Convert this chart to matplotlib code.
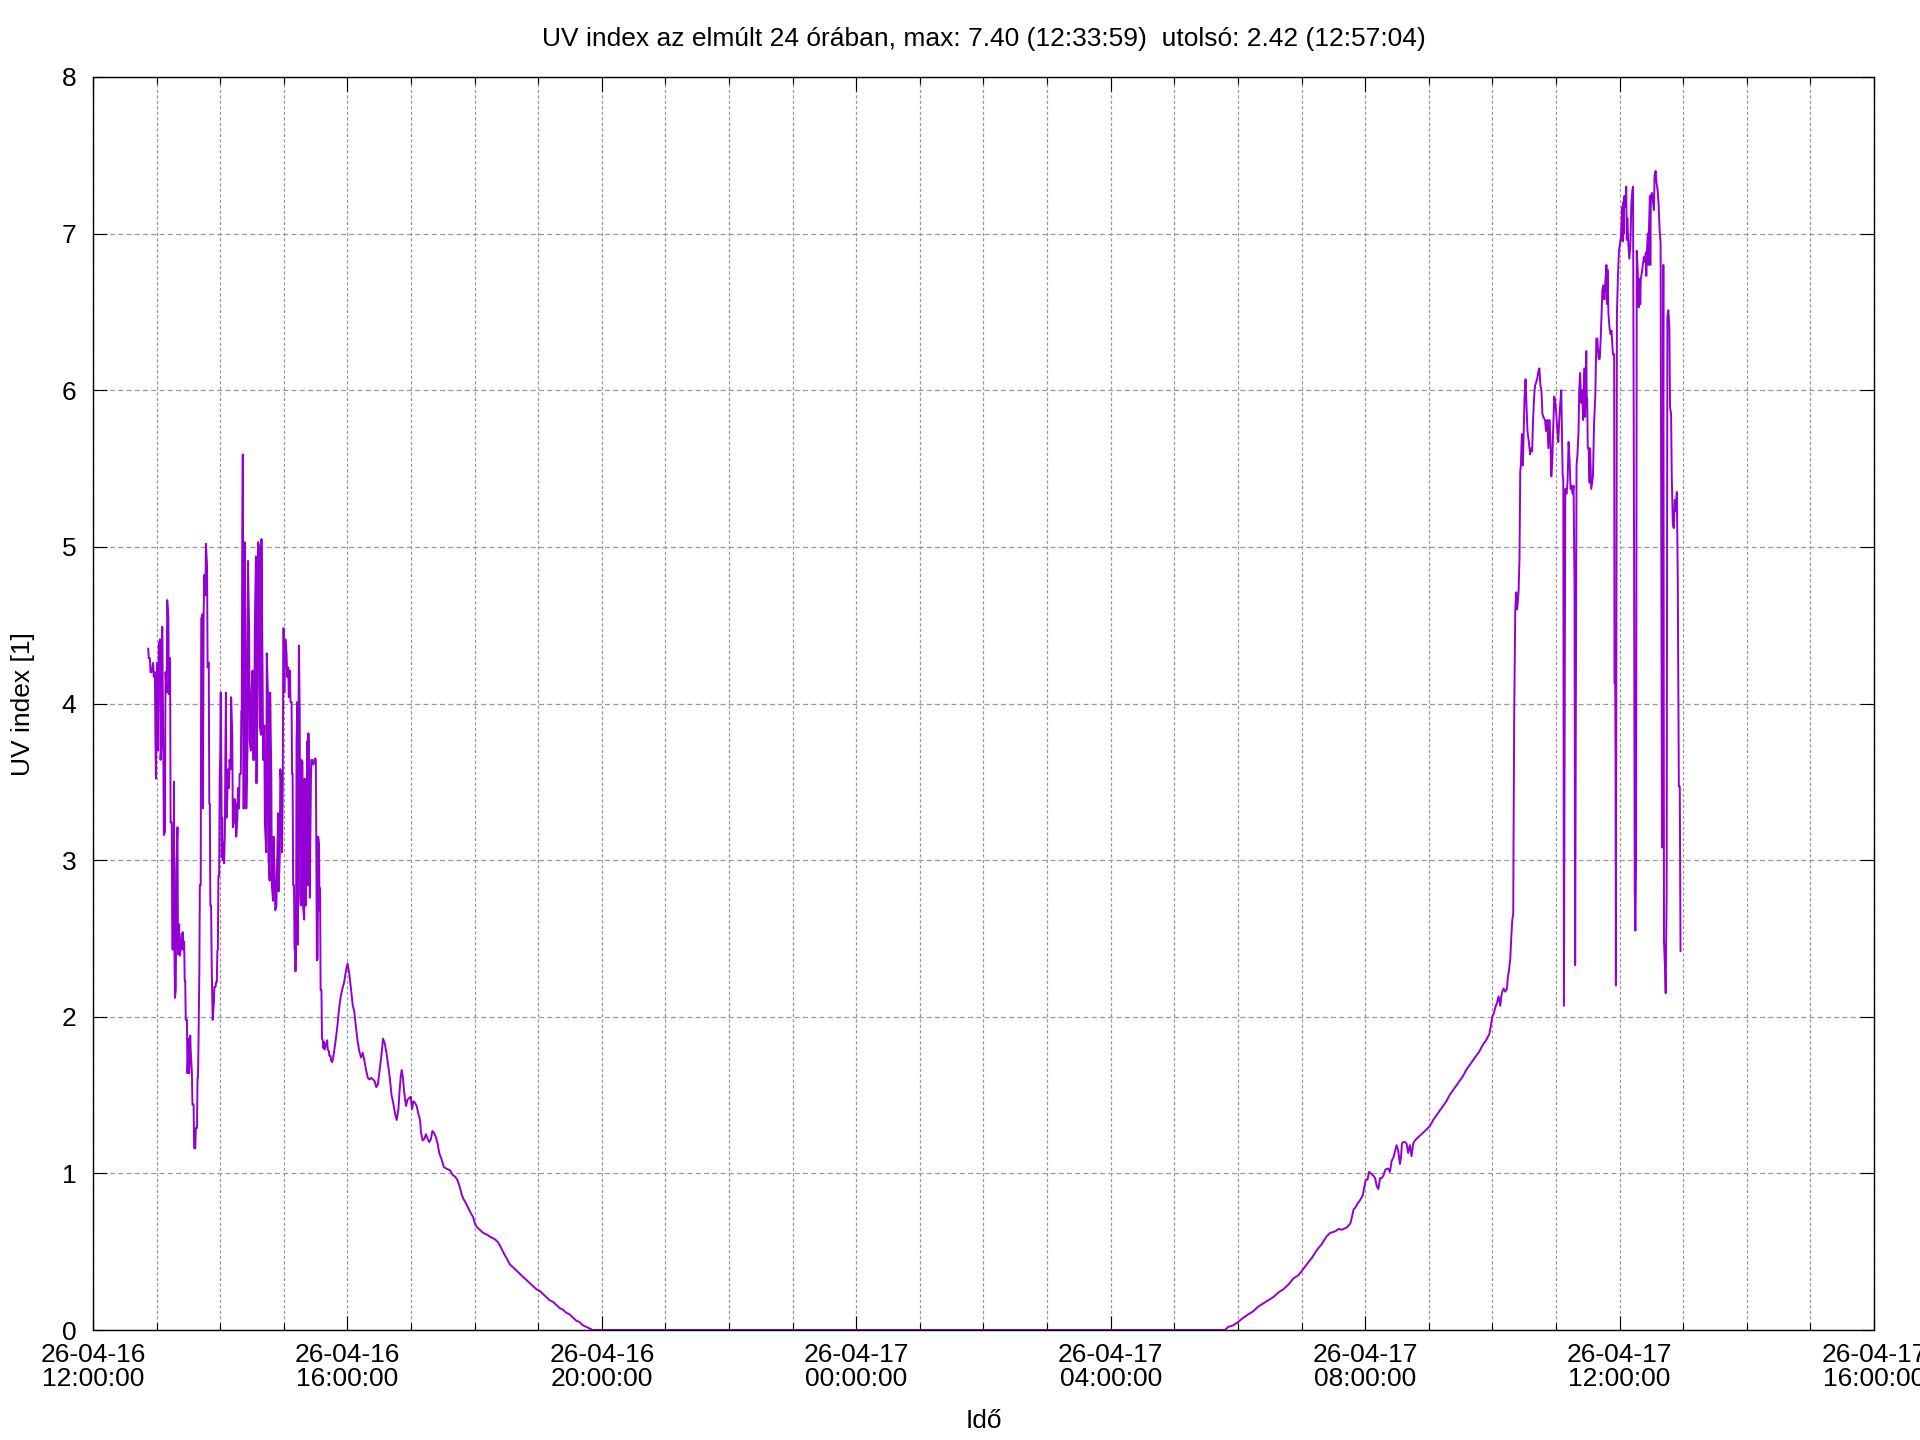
#!/usr/bin/env python3

import pandas as pd
import matplotlib as mpl
mpl.use('Agg')  # no display, output to an image
import matplotlib.pyplot as plt
import matplotlib.dates as mdates

#-----------------------------------------------------------------------------#
# Values.
# Times are minutes since 26-04-16 12:00:00, values are UV index [1].

start = '2026-04-16 12:00:00'

# Afternoon of the 16th, cloudy and noisy
aft_min = [52.1, 52.6, 53.7, 54.2, 55.2, 55.7, 56.8, 57.3, 58.4, 58.9,
	59.4, 59.9, 60.6, 61.1, 61.6, 62.1, 63.2, 63.7, 64.8, 65.3,
	66.3, 66.8, 67.9, 68.4, 69.5, 70.0, 71.1, 71.6, 72.7, 73.2,
	74.3, 74.8, 75.9, 76.4, 76.8, 77.3, 78.1, 78.6, 79.7, 80.2,
	81.3, 81.8, 82.2, 82.7, 83.8, 84.3, 84.8, 85.3, 86.0, 86.5,
	87.0, 87.5, 88.6, 89.1, 90.2, 90.7, 91.7, 92.2, 93.3, 93.8,
	94.9, 95.4, 96.5, 97.0, 98.1, 98.6, 99.0, 99.5, 100.3, 100.8,
	101.6, 102.1, 103.2, 103.7, 104.4, 104.9, 106.0, 106.5, 107.6, 108.1,
	109.2, 109.7, 110.2, 110.7, 111.4, 111.9, 112.4, 112.9, 114.0, 114.5,
	115.6, 116.1, 116.8, 117.3, 117.8, 118.3, 119.0, 119.5, 120.0, 120.5,
	121.0, 121.5, 121.9, 122.4, 123.2, 123.7, 124.4, 124.9, 125.4, 125.9,
	126.7, 127.2, 128.3, 128.8, 129.8, 130.3, 131.4, 131.9, 133.0, 133.5,
	134.6, 135.1, 136.2, 136.7, 137.8, 138.3, 139.4, 139.9, 140.3, 140.8,
	141.3, 141.8, 142.5, 143.0, 144.1, 144.6, 145.7, 146.2, 147.3, 147.8,
	148.9, 149.4, 150.5, 151.0, 152.1, 152.6, 153.7, 154.2, 155.2, 155.7,
	156.8, 157.3, 158.4, 158.9, 160.0, 160.5, 161.6, 162.1, 163.4, 163.9,
	165.0, 165.5, 166.6, 167.1, 168.2, 168.7, 169.8, 170.3, 171.4, 171.9,
	173.0, 173.5, 174.6, 175.1, 176.2, 176.7, 177.8, 178.3, 179.0, 179.5,
	180.0, 180.5, 181.0, 181.5, 182.6, 183.1, 184.2, 184.7, 185.8, 186.3,
	187.3, 187.8, 188.3, 188.8, 189.6, 190.1, 190.5, 191.0, 191.5, 192.0,
	192.8, 193.3, 193.7, 194.2, 195.0, 195.5, 196.0, 196.5, 197.6, 198.1,
	199.2, 199.7, 200.1, 200.6, 201.1, 201.6, 202.0, 202.5, 202.7, 203.2,
	204.0, 204.5, 205.6, 206.1, 207.2, 207.7, 209.1, 209.6, 210.2, 210.7,
	211.2, 211.9, 212.4, 213.2, 213.7, 214.2, 214.7, 215.5, 216.0, 216.7,
	217.2, 218.0, 218.5, 219.3, 220.9, 221.4, 222.5, 223.0, 224.1, 224.6,
	225.7, 227.3, 228.9, 230.5, 232.1, 233.7, 235.3, 236.9, 238.5, 240.1,
	241.7, 243.3, 244.9, 246.5, 248.1, 249.7, 251.2, 252.8, 254.4, 256.0,
	257.6, 259.2, 260.8, 262.4, 264.0, 265.6, 267.2, 268.8, 270.4, 272.0,
	273.6, 275.2, 276.8, 278.4, 280.0, 281.6, 283.2]
aft_uv = [4.35, 4.29, 4.29, 4.20, 4.20, 4.22, 4.26, 4.17, 4.20, 3.76,
	3.52, 4.11, 4.26, 3.70, 4.01, 4.38, 4.41, 3.64, 3.76, 4.49,
	3.73, 3.16, 3.18, 4.20, 4.07, 4.66, 4.55, 4.06, 4.29, 3.24,
	3.24, 2.43, 2.43, 3.50, 2.43, 2.12, 2.17, 2.94, 3.21, 2.40,
	2.59, 2.39, 2.40, 2.43, 2.53, 2.43, 2.54, 2.43, 2.48, 2.23,
	2.23, 1.98, 1.98, 1.64, 1.86, 1.64, 1.88, 1.78, 1.64, 1.44,
	1.44, 1.16, 1.16, 1.29, 1.29, 1.61, 1.61, 1.83, 2.28, 2.84,
	2.84, 4.54, 4.57, 3.33, 4.57, 4.82, 4.69, 5.02, 4.88, 4.23,
	4.26, 3.36, 3.36, 2.71, 2.71, 2.37, 2.15, 1.98, 2.09, 2.19,
	2.19, 2.22, 2.22, 2.42, 2.43, 2.90, 2.90, 3.52, 3.67, 4.07,
	3.67, 3.02, 3.27, 3.00, 3.11, 2.98, 3.18, 3.73, 4.07, 3.27,
	3.39, 3.58, 3.46, 3.64, 3.58, 4.04, 3.80, 3.21, 3.24, 3.39,
	3.36, 3.15, 3.27, 3.46, 3.33, 3.55, 3.55, 3.95, 3.95, 5.07,
	5.59, 3.33, 3.33, 5.03, 4.34, 3.33, 3.70, 4.91, 4.46, 3.76,
	3.70, 4.07, 4.21, 3.64, 3.64, 4.48, 4.94, 3.49, 4.11, 5.03,
	5.00, 3.86, 3.80, 5.05, 4.17, 3.64, 3.86, 3.24, 3.05, 4.32,
	4.07, 3.02, 2.87, 4.07, 3.55, 2.84, 2.74, 3.15, 2.90, 2.68,
	2.71, 2.93, 3.30, 2.80, 3.02, 3.58, 3.46, 3.05, 3.46, 4.48,
	4.48, 4.07, 4.32, 4.41, 4.32, 4.17, 4.23, 4.04, 4.21, 4.01,
	4.01, 3.55, 3.55, 2.84, 2.84, 2.43, 2.43, 2.29, 2.40, 3.76,
	4.01, 2.46, 3.64, 4.37, 3.95, 2.77, 2.71, 3.64, 3.63, 2.71,
	2.62, 3.52, 3.08, 2.71, 2.87, 3.24, 3.76, 3.02, 2.84, 3.81,
	3.64, 2.76, 3.52, 3.64, 3.64, 3.61, 3.63, 3.65, 3.64, 2.99,
	2.36, 2.37, 3.15, 3.10, 2.68, 2.82, 2.17, 2.17, 1.86, 1.85,
	1.80, 1.84, 1.79, 1.81, 1.85, 1.79, 1.78, 1.75, 1.75, 1.72,
	1.71, 1.77, 1.85, 1.94, 2.05, 2.13, 2.18, 2.22, 2.29, 2.34,
	2.28, 2.18, 2.08, 2.03, 1.93, 1.84, 1.78, 1.74, 1.77, 1.72,
	1.66, 1.61, 1.60, 1.61, 1.60, 1.59, 1.55, 1.57, 1.66, 1.75,
	1.86, 1.83, 1.77, 1.69, 1.61, 1.50, 1.45]

# Evening decay down to zero
eve_min = [285.0, 286.5, 288.1, 289.0, 290.3, 291.2, 292.2, 293.4, 294.4, 295.3,
	296.6, 298.1, 299.7, 300.9, 302.2, 303.8, 305.3, 306.9, 308.5, 309.4,
	311.0, 312.5, 314.1, 315.7, 317.2, 318.8, 320.1, 321.6, 323.5, 325.1,
	326.6, 328.8, 331.0, 333.5, 336.7, 339.2, 341.4, 343.6, 346.1, 347.6,
	349.2, 351.7, 353.9, 356.1, 358.6, 360.2, 361.8, 364.9, 368.0, 371.2,
	375.9, 379.0, 382.1, 385.3, 387.5, 390.0, 393.1, 396.2, 399.4, 402.5,
	405.6, 408.8, 411.9, 415.0, 418.2, 421.3, 424.5, 427.6, 430.7, 433.9,
	437.0, 440.2, 443.3, 446.4, 449.5, 452.7, 455.8, 459.0, 462.1, 465.2,
	468.3, 471.5]
eve_uv = [1.38, 1.34, 1.41, 1.51, 1.62, 1.66, 1.62, 1.53, 1.47, 1.43,
	1.47, 1.48, 1.49, 1.41, 1.46, 1.45, 1.43, 1.38, 1.34, 1.26,
	1.21, 1.22, 1.25, 1.22, 1.20, 1.22, 1.27, 1.26, 1.23, 1.19,
	1.13, 1.09, 1.04, 1.03, 1.02, 0.99, 0.98, 0.96, 0.91, 0.87,
	0.84, 0.81, 0.78, 0.75, 0.72, 0.68, 0.66, 0.64, 0.62, 0.61,
	0.59, 0.58, 0.56, 0.52, 0.49, 0.46, 0.42, 0.40, 0.38, 0.36,
	0.34, 0.32, 0.30, 0.28, 0.26, 0.25, 0.23, 0.21, 0.19, 0.18,
	0.16, 0.14, 0.13, 0.11, 0.10, 0.08, 0.06, 0.05, 0.03, 0.02,
	0.01, 0.00]

# Night, flat zero
night_min = [471.5, 1067.7]
night_uv = [0.0, 0.0]

# Morning of the 17th, smooth rise
morn_min = [1067.7, 1070.9, 1075.6, 1080.0, 1083.5, 1086.6, 1089.8, 1094.5, 1099.2, 1104.0,
	1108.7, 1113.4, 1118.2, 1122.9, 1127.6, 1132.4, 1137.1, 1140.6, 1145.0, 1149.7,
	1154.4, 1159.2, 1163.9, 1167.1, 1171.8, 1175.0, 1178.1, 1182.8, 1186.0, 1187.5,
	1189.1, 1190.6, 1192.2, 1195.3, 1197.8, 1199.1, 1200.6, 1202.2, 1203.8, 1205.3,
	1207.8, 1209.4, 1210.9, 1212.5, 1214.1, 1215.6, 1217.2, 1218.8, 1220.3, 1221.9,
	1223.4, 1225.0, 1226.6, 1228.1, 1229.7, 1231.3, 1232.8, 1233.8, 1234.7, 1235.9,
	1237.5, 1239.1, 1240.6, 1242.2, 1243.8, 1245.3, 1246.9, 1248.4, 1251.6, 1254.7,
	1257.8, 1260.9, 1264.1, 1267.2, 1270.3, 1273.4, 1276.6, 1279.7, 1282.8, 1285.9,
	1289.1, 1292.2, 1295.3, 1298.4, 1301.6, 1304.7, 1307.8, 1310.9, 1314.1, 1317.2]
morn_uv = [0.00, 0.02, 0.03, 0.05, 0.07, 0.085, 0.10, 0.12, 0.15, 0.17,
	0.19, 0.21, 0.24, 0.26, 0.29, 0.33, 0.35, 0.38, 0.42, 0.46,
	0.51, 0.55, 0.60, 0.62, 0.63, 0.645, 0.64, 0.655, 0.68, 0.72,
	0.77, 0.78, 0.80, 0.83, 0.86, 0.91, 0.96, 0.96, 1.01, 1.00,
	0.985, 0.97, 0.92, 0.90, 0.97, 0.97, 0.985, 1.02, 1.03, 1.03,
	1.01, 1.08, 1.10, 1.14, 1.18, 1.14, 1.06, 1.10, 1.19, 1.20,
	1.20, 1.19, 1.13, 1.18, 1.11, 1.19, 1.21, 1.22, 1.24, 1.26,
	1.28, 1.30, 1.34, 1.37, 1.40, 1.43, 1.46, 1.50, 1.53, 1.56,
	1.59, 1.62, 1.66, 1.69, 1.72, 1.75, 1.78, 1.82, 1.85, 1.89]

# Around noon of the 17th, high with cloud dips
noon_min = [1320.0, 1321.3, 1322.8, 1324.4, 1325.9, 1327.5, 1328.4, 1329.4, 1330.6, 1332.2,
	1333.8, 1334.7, 1335.6, 1336.9, 1337.8, 1338.8, 1339.7, 1340.0, 1340.6, 1341.6,
	1342.5, 1343.4, 1344.7, 1345.6, 1346.3, 1346.9, 1347.8, 1348.8, 1349.4, 1350.3,
	1351.3, 1351.9, 1353.1, 1354.4, 1355.6, 1356.6, 1357.5, 1358.4, 1359.4, 1360.3,
	1361.3, 1362.2, 1363.4, 1364.4, 1365.3, 1366.3, 1367.2, 1368.1, 1369.7, 1370.6,
	1371.9, 1372.8, 1373.8, 1374.7, 1375.6, 1376.6, 1377.5, 1378.4, 1379.4, 1380.3,
	1381.3, 1382.2, 1383.1, 1384.1, 1385.0, 1386.3, 1386.9, 1387.5, 1388.1, 1388.8,
	1390.0, 1390.9, 1391.9, 1392.8, 1393.8, 1394.7, 1395.6, 1396.6, 1397.5, 1398.1,
	1398.8, 1399.4, 1400.3, 1401.3, 1401.9, 1402.8, 1403.8, 1404.7, 1405.6, 1406.6,
	1407.5, 1408.6, 1409.0, 1409.5, 1410.0, 1410.8, 1411.7, 1412.2, 1413.3, 1414.9,
	1415.9, 1417.1, 1418.1, 1419.0, 1420.3, 1421.3, 1422.2, 1422.9, 1423.8, 1424.8,
	1425.7, 1426.7, 1427.6, 1428.2, 1428.6, 1429.5, 1430.5, 1431.4, 1432.4, 1433.7,
	1434.9, 1435.2, 1435.9, 1436.2, 1436.5, 1437.5, 1438.4, 1439.4, 1440.3, 1441.3,
	1442.5, 1443.0, 1443.5, 1444.0, 1444.4, 1445.4, 1446.3, 1446.8, 1447.3, 1448.3,
	1449.2, 1450.2, 1451.1, 1452.1, 1452.7, 1453.7, 1454.3, 1454.9, 1455.6, 1455.9,
	1456.2, 1457.1, 1458.1, 1459.0, 1459.5, 1460.0, 1461.0, 1461.9, 1462.9, 1463.8,
	1464.8, 1465.2, 1465.7, 1466.7, 1467.2, 1467.6, 1468.6, 1469.0, 1469.5, 1470.5,
	1471.4, 1472.4, 1473.0, 1474.0, 1474.9, 1475.9, 1476.8, 1477.8, 1478.7, 1479.4,
	1480.0, 1480.6, 1481.3, 1481.9, 1482.9, 1483.5, 1484.4, 1485.1, 1486.0, 1487.0,
	1487.6, 1488.6, 1489.2, 1490.2, 1491.1, 1492.1, 1493.0, 1494.0, 1494.9, 1495.9,
	1496.8, 1497.5]
noon_uv = [2.00, 2.02, 2.06, 2.09, 2.13, 2.07, 2.13, 2.16, 2.18, 2.16,
	2.18, 2.26, 2.29, 2.37, 2.50, 2.62, 2.66, 3.14, 3.91, 4.60,
	4.71, 4.60, 4.71, 4.93, 5.48, 5.52, 5.72, 5.52, 5.70, 5.94,
	6.07, 5.96, 5.74, 5.67, 5.59, 5.63, 5.61, 5.81, 5.96, 6.03,
	6.05, 6.07, 6.12, 6.14, 6.03, 6.00, 5.85, 5.83, 5.81, 5.74,
	5.81, 5.63, 5.81, 5.70, 5.45, 5.56, 5.78, 5.96, 5.92, 5.85,
	5.74, 5.67, 5.81, 5.92, 6.00, 5.46, 5.43, 2.07, 3.61, 5.37,
	5.34, 5.41, 5.67, 5.56, 5.37, 5.39, 5.34, 5.39, 4.75, 2.33,
	3.94, 5.52, 5.59, 5.74, 6.00, 6.11, 5.92, 6.00, 5.81, 6.14,
	5.83, 6.25, 5.96, 5.94, 5.63, 5.63, 5.41, 5.63, 5.37, 5.45,
	5.78, 5.96, 6.33, 6.33, 6.20, 6.20, 6.33, 6.47, 6.64, 6.67,
	6.58, 6.71, 6.80, 6.55, 6.77, 6.49, 6.40, 6.36, 6.38, 6.23,
	6.23, 4.13, 4.13, 3.65, 2.20, 6.49, 6.71, 6.89, 6.93, 6.98,
	7.17, 6.95, 7.20, 7.00, 7.24, 7.17, 7.30, 6.96, 7.10, 6.93,
	6.84, 6.93, 7.19, 7.28, 7.30, 4.91, 2.81, 2.55, 3.00, 4.90,
	6.89, 6.77, 6.53, 6.71, 6.55, 6.71, 6.75, 6.80, 6.85, 6.82,
	6.88, 6.73, 6.88, 7.00, 6.80, 7.00, 7.24, 6.80, 7.24, 7.26,
	7.21, 7.15, 7.37, 7.40, 7.32, 7.28, 7.19, 7.02, 6.94, 4.93,
	3.08, 4.90, 6.80, 2.48, 2.30, 2.15, 2.78, 6.47, 6.51, 6.40,
	5.89, 5.85, 5.46, 5.15, 5.12, 5.30, 5.23, 5.35, 4.79, 3.47,
	3.47, 2.42]

title = 'UV index az elmúlt 24 órában, max: 7.40 (12:33:59)  utolsó: 2.42 (12:57:04)'
hours_shown = 28


#-----------------------------------------------------------------------------#


def plot(outputfile='out.png'):
	'''
	     Draws the UV index line of the last 24 hours in gnuplot look
	     and saves it as an image.
	'''

	plt.rcParams['font.family'] = ['Liberation Sans', 'DejaVu Sans']
	plt.rcParams['font.size'] = 19

	minutes = aft_min + eve_min + night_min + morn_min + noon_min
	uv = aft_uv + eve_uv + night_uv + morn_uv + noon_uv
	t0 = pd.Timestamp(start)
	times = t0 + pd.to_timedelta(minutes, unit='min')

	fig = plt.figure(figsize=(19.2, 14.4), dpi=100)
	ax = fig.add_axes([93 / 1920, 1 - 1330 / 1440,
	                   (1874 - 93) / 1920, (1330 - 77) / 1440])

	ax.plot(times, uv, color='#9400d3', linewidth=1.4)

	ax.set_xlim(t0, t0 + pd.Timedelta(hours=hours_shown))
	ax.set_ylim(0, 8)
	ax.set_yticks(range(0, 9))

	ax.xaxis.set_major_locator(mdates.HourLocator(byhour=range(0, 24, 4)))
	ax.xaxis.set_minor_locator(mdates.HourLocator())
	ax.xaxis.set_major_formatter(mdates.DateFormatter('%y-%m-%d\n%H:%M:%S'))

	# Grid like gnuplot: gray dashes at every hour and every unit
	ax.grid(True, which='both', axis='x', color='#999999',
	        linestyle=(0, (2.6, 1.8)), linewidth=0.9)
	ax.grid(True, which='major', axis='y', color='#999999',
	        linestyle=(0, (4, 2.6)), linewidth=0.9)
	ax.set_axisbelow(True)

	ax.tick_params(which='major', direction='in', length=10, width=0.8,
	               top=True, right=True, labelsize=19)
	ax.tick_params(which='minor', direction='in', length=5, width=0.8,
	               top=True, right=False)
	ax.tick_params(axis='x', pad=9)
	ax.tick_params(axis='y', pad=12)
	for sp in ax.spines.values():
		sp.set_linewidth(1.0)

	plt.setp(ax.get_xticklabels(), linespacing=1.0)

	# Title and axis labels
	fig.text(0.5122, 1 - 39 / 1440, title, ha='center', va='center',
	         fontsize=19)
	fig.text(0.5122, 1 - 1421 / 1440, 'Idő', ha='center', va='center',
	         fontsize=19)
	fig.text(23 / 1920, 1 - 704 / 1440, 'UV index [1]', rotation=90,
	         ha='center', va='center', fontsize=19)

	fig.savefig(outputfile, dpi=100)


#-----------------------------------------------------------------------------#


if __name__ == "__main__":
	plot()
